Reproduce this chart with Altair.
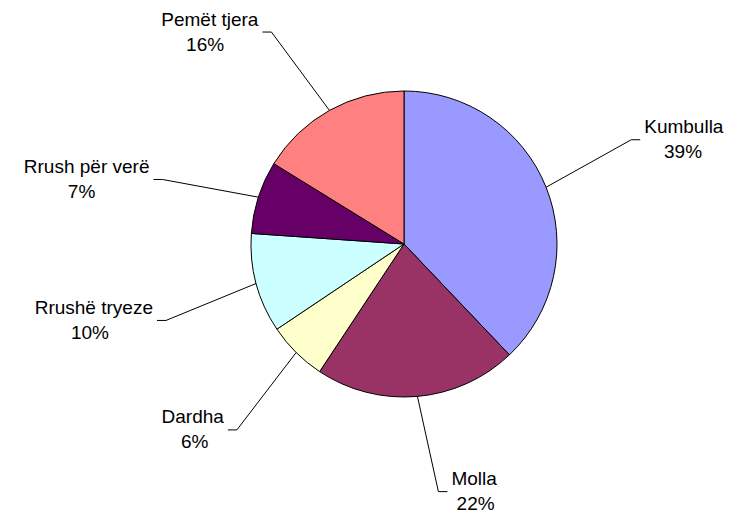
import altair as alt
import pandas as pd

# ---- data ----
names = ["Kumbulla", "Molla", "Dardha", "Rrushë tryeze", "Rrush për verë", "Pemët tjera"]
shares = [37.9, 21.4, 6.3, 10.5, 7.7, 16.2]          # slice sizes as drawn
pct_labels = ["39%", "22%", "6%", "10%", "7%", "16%"]  # labels as printed
colors = ["#9999FF", "#993366", "#FFFFCC", "#CCFFFF", "#660066", "#FF8080"]

df = pd.DataFrame({"name": names, "value": shares, "pct": pct_labels,
                   "order": list(range(len(names)))})

# ---- layout constants (plot-area pixels) ----
W, H = 721, 509
CX, CY = 396, 236      # pie centre
R = 153                # pie radius
RE = 250               # leader elbow radius
OFF = -0.05            # elbow angular offset (rad)
HSEG = 9               # horizontal leader segment
GAP = 4
CW = 9.7               # approx char width for centring the % line
FONT = "Liberation Sans"
FS = 19

xs = alt.Scale(domain=[0, W], nice=False, zero=False)
ys = alt.Scale(domain=[0, H], nice=False, zero=False, reverse=True)

base = (
    alt.Chart(df)
    .transform_window(cum="sum(value)", sort=[alt.SortField("order")], frame=[None, 0])
    .transform_joinaggregate(total="sum(value)")
    .transform_calculate(mid="(datum.cum - datum.value/2) / datum.total * 2 * PI")
    .transform_calculate(side="sin(datum.mid) >= 0 ? 1 : -1")
    .transform_calculate(ex=f"{CX} + {R} * sin(datum.mid)")
    .transform_calculate(ey=f"{CY} - {R} * cos(datum.mid)")
    .transform_calculate(ax=f"{CX} + {RE} * sin(datum.mid + ({OFF}))")
    .transform_calculate(ay=f"{CY} - {RE} * cos(datum.mid + ({OFF}))")
    .transform_calculate(bx=f"datum.ax + datum.side * {HSEG}")
    .transform_calculate(tx=f"datum.bx + datum.side * {GAP}")
    .transform_calculate(px=f"datum.tx + datum.side * length(datum.name) * {CW} / 2")
    .transform_calculate(ny="datum.ay - 12.5", py="datum.ay + 12.5")
)

pie = alt.Chart(df).mark_arc(radius=R, stroke="black", strokeWidth=1).encode(
    theta=alt.Theta("value:Q", stack=True),
    order=alt.Order("order:Q"),
    color=alt.Color("name:N", scale=alt.Scale(domain=names, range=colors), legend=None),
    x=alt.value(CX),
    y=alt.value(CY),
)

lead1 = base.mark_rule(color="black", strokeWidth=1).encode(
    x=alt.X("ex:Q", scale=xs, axis=None),
    y=alt.Y("ey:Q", scale=ys, axis=None),
    x2="ax:Q",
    y2="ay:Q",
)
lead2 = base.mark_rule(color="black", strokeWidth=1).encode(
    x=alt.X("ax:Q", scale=xs, axis=None),
    y=alt.Y("ay:Q", scale=ys, axis=None),
    x2="bx:Q",
    y2="ay:Q",
)

name_right = base.transform_filter("datum.side > 0").mark_text(
    align="left", baseline="middle", font=FONT, fontSize=FS, color="black"
).encode(
    x=alt.X("tx:Q", scale=xs, axis=None),
    y=alt.Y("ny:Q", scale=ys, axis=None),
    text="name:N",
)
name_left = base.transform_filter("datum.side < 0").mark_text(
    align="right", baseline="middle", font=FONT, fontSize=FS, color="black"
).encode(
    x=alt.X("tx:Q", scale=xs, axis=None),
    y=alt.Y("ny:Q", scale=ys, axis=None),
    text="name:N",
)
pct = base.mark_text(
    align="center", baseline="middle", font=FONT, fontSize=FS, color="black"
).encode(
    x=alt.X("px:Q", scale=xs, axis=None),
    y=alt.Y("py:Q", scale=ys, axis=None),
    text="pct:N",
)

chart = (
    alt.layer(pie, lead1, lead2, name_right, name_left, pct)
    .properties(width=W, height=H, padding=0,
                autosize=alt.AutoSizeParams(type="none"),
                background="white")
    .configure_view(stroke=None)
)

chart.save("out.html", embed_options={"renderer": "svg", "actions": False})
